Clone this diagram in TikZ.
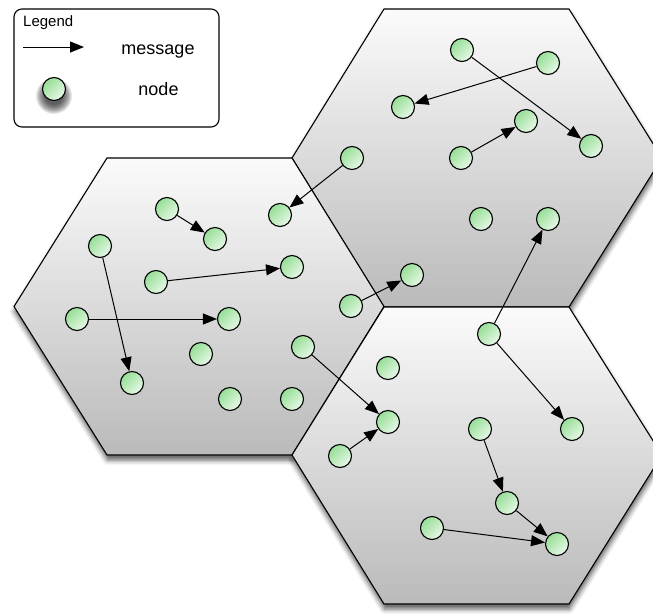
\documentclass[tikz,border=0pt]{standalone}
\usepackage{fontspec}
\setmainfont{Liberation Sans}
\usetikzlibrary{arrows.meta,shadows.blur}

\definecolor{ballgreen}{RGB}{150,222,150}
\definecolor{ballpale}{RGB}{232,248,232}
\definecolor{cellTop}{RGB}{251,251,251}
\definecolor{cellBot}{RGB}{186,186,186}

\tikzset{
  ball/.style={circle, draw=black, line width=1.1pt, minimum size=23pt, inner sep=0pt,
               top color=ballgreen, bottom color=ballpale, shading angle=45},
  msg/.style={draw=black, line width=1pt, -{Triangle[length=14pt,width=11pt]}},
  cell/.style={draw=black, line width=1.1pt, top color=cellTop, bottom color=cellBot},
  cellshadow/.style={fill=white, blur shadow={shadow xshift=0.5pt, shadow yshift=-5pt,
               shadow blur radius=5pt, shadow opacity=65}},
  legendbox/.style={draw=black, line width=1.1pt, fill=white, rounded corners=8pt},
  softshade/.style={fill=black, fill opacity=0.09},
}

\begin{document}
\begin{tikzpicture}[x=1pt, y=-1pt]
\useasboundingbox (0,0) rectangle (653,614);
\clip (0,0) rectangle (653,614);

% shadows of the three cells, under everything
\path[cellshadow] (292,158) -- (384,9) -- (569,9) -- (662,158) -- (569,307) -- (384,307) -- cycle;
\path[cellshadow] (14,306.5) -- (107,158) -- (292,158) -- (384,306.5) -- (292,455) -- (107,455) -- cycle;
\path[cellshadow] (292,455) -- (384,307) -- (569,307) -- (662,455) -- (569,604) -- (384,604) -- cycle;

% the three cells
\path[cell] (292,158) -- (384,9) -- (569,9) -- (662,158) -- (569,307) -- (384,307) -- cycle;
\path[cell] (14,306.5) -- (107,158) -- (292,158) -- (384,306.5) -- (292,455) -- (107,455) -- cycle;
\path[cell] (292,455) -- (384,307) -- (569,307) -- (662,455) -- (569,604) -- (384,604) -- cycle;

% legend
\draw[legendbox] (14,9) rectangle (219,127);
\node[anchor=base west, font=\fontsize{15}{17}\selectfont, inner sep=0pt] (legtitle) at (23,26) {Legend};
\coordinate (la1) at (23,47);
\coordinate (la2) at (84,47);
\draw[msg] (la1) -- (la2);
\node[anchor=base, font=\fontsize{18}{20}\selectfont, inner sep=0pt] (legmsg) at (158,54) {message};
% soft shadow under the sample node
\foreach \r in {18,17,...,9}
  \fill[softshade] (54,96) circle (\r);
\node[ball] (legnode) at (54,89) {};
\node[anchor=base, font=\fontsize{18}{20}\selectfont, inner sep=0pt] (legnd) at (158.5,95) {node};

% nodes of the upper right cell
\node[ball] (t1) at (462,50) {};
\node[ball] (t2) at (548,63) {};
\node[ball] (t3) at (403,107) {};
\node[ball] (t4) at (526,121) {};
\node[ball] (t5) at (591,146) {};
\node[ball] (t6) at (461,158) {};
\node[ball] (t7) at (352,158) {};
\node[ball] (t8) at (481,219) {};
\node[ball] (t9) at (548,219) {};
\node[ball] (t10) at (412,275) {};

% nodes of the left cell
\node[ball] (l0) at (280,215) {};
\node[ball] (l1) at (167,209) {};
\node[ball] (l2) at (215,239) {};
\node[ball] (l3) at (100,246) {};
\node[ball] (l4) at (292,267) {};
\node[ball] (l5) at (156,282) {};
\node[ball] (l6) at (77,319) {};
\node[ball] (l7) at (229,319) {};
\node[ball] (l8) at (351,306) {};
\node[ball] (l9) at (201,354) {};
\node[ball] (l10) at (303,347) {};
\node[ball] (l11) at (132,383) {};
\node[ball] (l12) at (230,399) {};
\node[ball] (l13) at (292,399) {};

% nodes of the lower right cell
\node[ball] (b1) at (388,368) {};
\node[ball] (b2) at (489,334) {};
\node[ball] (b3) at (388,422) {};
\node[ball] (b4) at (572,429) {};
\node[ball] (b5) at (480,429) {};
\node[ball] (b6) at (340,456) {};
\node[ball] (b7) at (507,503) {};
\node[ball] (b8) at (432,528) {};
\node[ball] (b9) at (557,544) {};

% messages
\draw[msg] (t2) -- (t3);
\draw[msg] (t1) -- (t5);
\draw[msg] (t6) -- (t4);
\draw[msg] (t7) -- (l0);
\draw[msg] (l1) -- (l2);
\draw[msg] (l3) -- (l11);
\draw[msg] (l5) -- (l4);
\draw[msg] (l6) -- (l7);
\draw[msg] (l8) -- (t10);
\draw[msg] (l10) -- (b3);
\draw[msg] (b6) -- (b3);
\draw[msg] (b2) -- (t9);
\draw[msg] (b2) -- (b4);
\draw[msg] (b5) -- (b7);
\draw[msg] (b7) -- (b9);
\draw[msg] (b8) -- (b9);
\end{tikzpicture}
\end{document}
